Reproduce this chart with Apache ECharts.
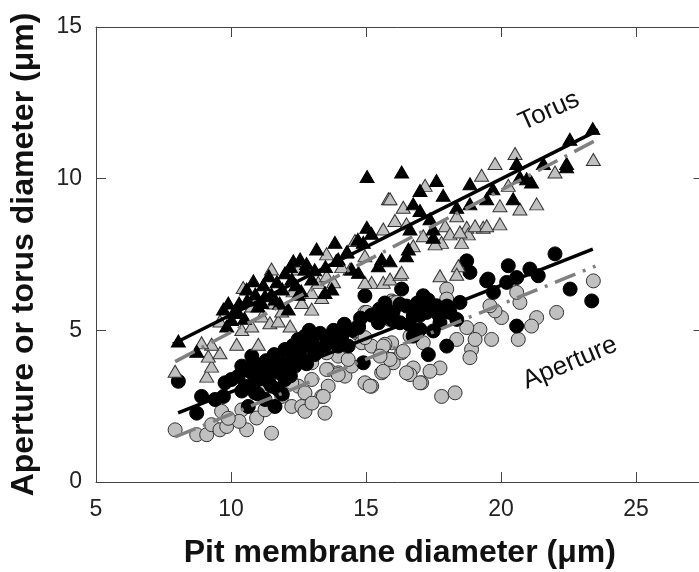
<!DOCTYPE html>
<html>
<head>
<meta charset="utf-8">
<script src="https://cdn.jsdelivr.net/npm/echarts@6/dist/echarts.min.js"></script>
<style>
html,body{margin:0;padding:0;background:#fff;}
#chart{width:699px;height:572px;}
</style>
</head>
<body>
<div id="chart"></div>
<script>
// Pit membrane diameter (x) vs torus diameter (y), species A (black) and B (gray)
var torusBlack = [[8.05,4.65],[8.73,4.31],[9.72,5.70],[9.84,5.14],[10.83,6.63],[10.58,6.36],[12.31,7.29],[12.56,7.35],[13.17,7.68],[13.85,7.90],[14.9,7.9],[15.03,8.4],[15.04,10.07],[15.58,7.35],[15.89,7.29],[11.9,6.36],[11.26,6.14],[12.25,6.69],[12.74,7.02],[12.99,6.69],[13.73,6.36],[13.48,6.25],[12.12,5.70],[10.27,5.59],[10.02,5.36],[11.14,5.92],[11.63,6.03],[12.49,6.19],[14.47,7.02],[14.72,6.91],[13.97,7.35],[15.46,7.13],
[16.32,10.22],[17.61,9.94],[17.0,9.61],[18.85,9.83],[17.86,9.45],[17.0,8.95],[17.37,8.68],[17.49,8.34],[17.49,8.07],[16.57,7.68],[16.5,7.46],[18.85,9.17],[19.47,9.34],[20.45,9.34],[20.7,10.06],[20.95,10.0],[21.13,9.89],[20.58,10.5],[21.57,10.5],[22.43,10.5],[19.7,9.67],[18.36,9.06],[16.75,9.17],[16.63,8.34],[23.4,11.65],[22.55,11.3],[22.43,10.39],
[10.3,5.9],[10.6,6.0],[10.9,6.2],[11.2,6.5],[11.4,6.8],[11.7,6.6],[12.0,6.9],[12.2,7.1],[11.0,5.8],[11.5,6.2],[12.4,6.5],[12.8,7.2],[13.1,7.0],[10.1,5.6],[10.5,5.4],[9.9,5.9],[11.8,5.9],[12.6,6.3],[13.5,7.1],[13.9,7.3],[14.3,7.6],[14.7,8.0],[15.2,8.2]];

var torusGray = [[7.93,3.65],[9.1,3.49],[9.28,3.82],[9.16,4.15],[9.59,4.26],[9.28,4.54],[8.91,4.59],[10.21,4.54],[11.01,4.54],[11.5,7.02],[10.45,6.41],[9.59,5.31],[10.4,5.03],[10.77,5.14],[11.14,5.47],[11.44,5.25],[11.75,5.31],[12.19,5.14],[12.62,5.92],[12.99,6.25],[13.36,6.08],[13.23,6.58],[13.54,7.52],[13.54,6.80],[14.28,7.57],[14.59,7.96],[14.96,7.46],[15.21,6.58],[15.64,6.58],[14.96,6.58],[15.64,8.34],[15.83,9.34],[12.99,5.70],[11.88,5.64],[10.77,5.80],[14.41,7.02],[12.49,7.02],
[15.89,9.34],[16.38,9.06],[17.19,9.78],[19.28,10.11],[19.78,10.5],[20.52,10.83],[22.0,10.22],[23.42,10.63],[20.27,9.78],[21.32,9.17],[20.7,9.0],[19.96,9.11],[19.96,8.51],[19.34,8.4],[18.73,8.4],[18.36,8.78],[17.93,8.45],[16.07,8.62],[16.5,8.51],[17.8,7.90],[18.11,8.18],[18.79,8.18],[15.89,6.69],[16.26,6.85],[17.74,6.80],[18.42,7.13],[18.36,6.85],[16.75,7.79],[17.12,8.12],[18.54,7.90],[19.04,8.45],[19.47,8.45],[16.32,6.91],[17.56,7.85],[18.48,8.24],
[12.3,6.3],[11.6,5.9],[13.8,6.6],[14.1,7.1]];

var apBlack = [[8.05,3.32],[8.73,2.27],[8.91,2.82],[10.77,4.15],[9.78,3.27],[9.72,2.82],[10.02,3.38],[10.27,3.49],[10.52,3.16],[10.77,3.60],[11.01,3.38],[10.89,2.94],[10.64,2.49],[11.26,3.82],[11.5,3.71],[11.5,3.16],[11.75,4.04],[12.0,4.37],[12.25,4.26],[12.49,4.70],[12.37,3.82],[12.0,3.38],[11.26,2.72],[11.63,2.49],[12.86,4.48],[12.74,4.81],[13.23,4.37],[13.73,4.81],[13.97,4.48],[14.34,4.48],[14.72,5.14],[14.96,6.14],[14.9,3.93],[15.46,5.25],[15.95,5.36],[11.75,3.05],[10.4,3.82],[9.41,2.72],
[18.73,7.29],[18.85,6.91],[20.27,7.13],[22.0,7.52],[21.07,7.02],[21.38,6.80],[20.58,6.74],[20.21,6.58],[19.47,6.63],[19.72,6.25],[22.56,6.36],[23.36,5.97],[16.32,6.36],[16.26,5.86],[17.12,6.14],[20.58,5.14],[17.99,4.48],[17.31,4.20],
[15.77,5.47],[16.26,5.25],[16.75,5.47],[17.24,5.59],[17.61,5.81],[18.11,5.59],[18.36,5.36],[17.0,5.03],[17.74,5.25],[16.75,4.81],[17.49,4.98],[18.48,5.92],[14.72,5.09],[13.67,4.81],[19.52,6.69],
[10.6,3.7],[10.9,3.9],[11.1,3.5],[11.3,4.0],[11.6,4.2],[11.8,3.6],[12.1,3.9],[12.3,4.5],[12.6,4.1],[12.8,3.9],[13.0,4.6],[13.3,4.9],[13.5,4.5],[13.8,5.0],[14.1,4.8],[14.5,5.0],[14.8,5.4],[15.2,5.5],[15.5,5.7],[15.7,5.9],[16.0,5.6],[16.5,5.8],[16.9,5.9],[17.3,6.0],[17.7,5.5],[18.0,5.8],[11.4,3.3],[10.8,3.2],[12.2,3.5],[13.1,4.2],[12.5,4.3],[11.0,2.9],[10.4,3.0],[11.9,2.9],[12.9,5.0],[14.2,5.2],[16.6,5.2],[17.0,5.5]];

var apGray = [[7.93,1.72],[8.73,1.56],[9.1,1.56],[9.28,1.89],[9.59,1.72],[9.84,1.83],[10.58,1.72],[11.5,1.61],[9.65,2.33],[10.4,2.38],[10.95,2.11],[11.26,2.38],[12.25,2.49],[12.62,2.49],[12.74,2.33],[13.48,2.27],[13.36,2.82],[12.49,3.16],[12.99,3.38],[13.6,3.16],[13.6,3.71],[13.97,3.60],[14.22,3.49],[14.96,3.27],[15.21,3.16],[13.23,4.81],[14.65,4.92],[14.84,4.59],[15.21,4.48],[15.58,4.26],[15.95,4.04],[15.58,3.60],[15.95,4.59],[14.96,5.59],[15.95,5.97],[14.47,3.82],[11.88,2.82],[12.25,3.27],[12.99,3.93],[13.97,4.15],[11.26,3.16],
[23.42,6.63],[22.06,5.59],[21.32,5.42],[21.13,5.14],[20.64,4.70],[20.7,5.92],[20.58,6.25],[20.02,5.42],[19.65,4.70],[19.22,5.03],[19.78,5.64],[18.91,4.37],[18.85,4.10],[19.04,4.70],[18.73,5.09],[18.36,4.70],[17.74,3.76],[17.37,3.65],[17.06,3.27],[16.75,3.76],[16.63,3.54],[16.01,3.93],[15.64,3.65],[16.32,4.26],[17.8,2.82],[18.3,2.94],[17.99,6.36],[17.99,6.03],[16.01,5.92],[15.89,5.36],[15.7,4.54],[16.63,4.81],[17.12,4.59],[19.59,5.81],
[15.03,5.59],[16.14,5.92],[14.59,4.98],[14.96,4.76],[15.64,4.48],[16.38,4.31],[15.89,4.04],[15.52,4.15],[17.0,3.27],[16.5,3.60],[15.15,3.16],[14.34,4.04],[13.54,3.71],[13.42,2.82],[13.97,3.54],[13.54,4.26],[13.23,4.76],[12.74,2.94],[13.0,2.6],[10.3,2.0],[9.9,2.1]];

// regression lines (endpoints)
var torusBlackFit = [[7.85,4.55],[23.6,11.6]];
var torusGrayFit  = [[7.93,3.97],[23.5,11.26]];
var apBlackFit    = [[8.04,2.28],[23.4,7.68]];
var apGrayFit     = [[7.93,1.49],[23.5,7.12]];

var xTicks = [5,10,15,20,25];
var yTicks = [0,5,10,15];
var xTitle = 'Pit membrane diameter (\u03bcm)';
var yTitle = 'Aperture or torus diameter (\u03bcm)';

var FONT = 'Liberation Sans, Arial, sans-serif';
var frame = '#444';

function axisCommon(extra){
  var o = {
    type:'value',
    axisLine:{show:true,onZero:false,lineStyle:{color:frame,width:1}},
    axisTick:{show:true,inside:true,length:10,lineStyle:{color:frame,width:1}},
    splitLine:{show:false}
  };
  for (var k in extra) o[k]=extra[k];
  return o;
}

var chart = echarts.init(document.getElementById('chart'), null, {renderer:'canvas'});
var grayItem = {color:'#c0c0c0', borderColor:'#333', borderWidth:1, opacity:1};
var blackItem = {color:'#000', borderColor:'#000', borderWidth:1, opacity:1};

function xTickStyle(){
  return {show:true,inside:true,length:10,lineStyle:{color:frame,width:1},customValues:xTicks};
}

chart.setOption({
  animation:false,
  backgroundColor:'#fff',
  grid:{left:96, width:607.5, top:27, height:455, containLabel:false, outerBoundsMode:'none'},
  xAxis:[
    axisCommon({position:'bottom', min:5, max:27.5, interval:5,
      name:xTitle, nameLocation:'middle', nameGap:55,
      nameTextStyle:{fontFamily:FONT, fontWeight:'bold', fontSize:32, color:'#111'},
      axisTick:xTickStyle(),
      axisLabel:{show:true, margin:16, fontFamily:FONT, fontSize:23, color:'#222', customValues:xTicks,
        formatter:function(v){return xTicks.indexOf(v)>=0 ? String(v) : '';}}}),
    axisCommon({position:'top', min:5, max:27.5, interval:5, axisTick:xTickStyle(), axisLabel:{show:false}})
  ],
  yAxis:[
    axisCommon({position:'left', min:0, max:15, interval:5,
      name:yTitle, nameLocation:'middle', nameGap:56,
      nameTextStyle:{fontFamily:FONT, fontWeight:'bold', fontSize:32, color:'#111'},
      axisLabel:{show:true, margin:14, fontFamily:FONT, fontSize:23, color:'#222',
        formatter:function(v){return yTicks.indexOf(v)>=0 ? String(v) : '';}}}),
    axisCommon({position:'right', min:0, max:15, interval:5, axisLabel:{show:false}})
  ],
  series:[
    {type:'scatter', data:apGray, symbol:'circle', symbolSize:14, itemStyle:grayItem, z:2},
    {type:'scatter', data:apBlack, symbol:'circle', symbolSize:14, itemStyle:blackItem, z:3},
    {type:'scatter', data:torusGray, symbol:'triangle', symbolSize:[14,12], itemStyle:grayItem, z:4},
    {type:'scatter', data:torusBlack, symbol:'triangle', symbolSize:[14,12], itemStyle:blackItem, z:5},
    {type:'line', data:torusGrayFit, symbol:'none', lineStyle:{color:'#808080', width:3.5, type:[22,8,3,8]}, z:6},
    {type:'line', data:apGrayFit, symbol:'none', lineStyle:{color:'#808080', width:3.5, type:[22,8,3,8]}, z:6},
    {type:'line', data:torusBlackFit, symbol:'none', lineStyle:{color:'#000', width:3.5}, z:7},
    {type:'line', data:apBlackFit, symbol:'none', lineStyle:{color:'#000', width:3.5}, z:7}
  ],
  graphic:[
    {type:'text', x:549, y:111, rotation:0.42, z:10,
     style:{text:'Torus', fontFamily:FONT, fontSize:26, fill:'#111', textAlign:'center', textVerticalAlign:'middle'}},
    {type:'text', x:570, y:363, rotation:0.40, z:10,
     style:{text:'Aperture', fontFamily:FONT, fontSize:26, fill:'#111', textAlign:'center', textVerticalAlign:'middle'}}
  ]
});
</script>
</body>
</html>
